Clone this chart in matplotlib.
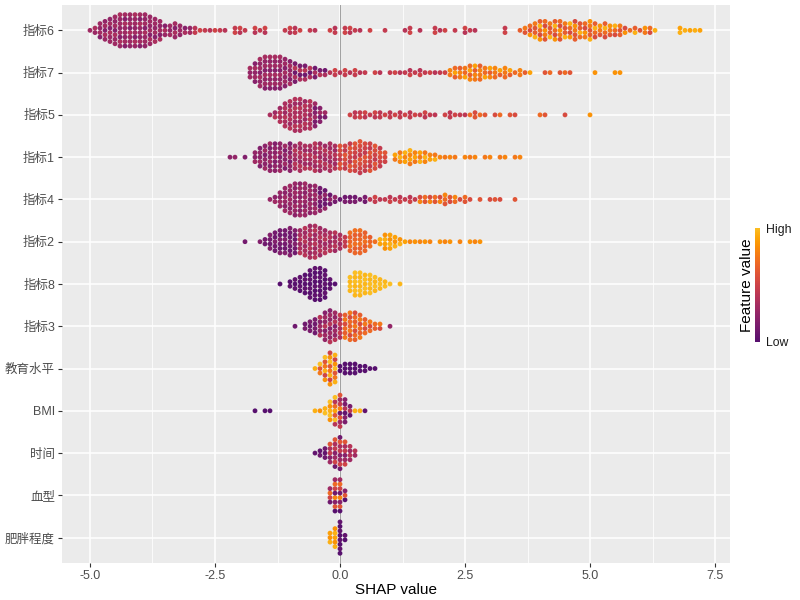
import numpy as np
import matplotlib.pyplot as plt
from matplotlib import colors, cm

plt.rcParams['font.family'] = ['Liberation Sans', 'Noto Sans CJK SC', 'DejaVu Sans']

# features, top to bottom
features = ['指标6', '指标7', '指标5', '指标1', '指标4', '指标2', '指标8', '指标3',
            '教育水平', 'BMI', '时间', '血型', '肥胖程度']

# SHAP value of the first 0.1-wide column of each feature
col_start = [-5.0, -1.8, -1.4, -2.2, -1.4, -1.9, -1.2, -0.9, -0.5, -1.7, -0.5, -0.2, -0.2]

# number of points in each 0.1-wide SHAP column
col_counts = [
    '1 2 4 5 6 7 8 8 8 8  8 8 7 6 5 3 3 4 3 2  2 2 1 1 1 1 1 1 0 2  2 1 0 2 1 2 0 0 0 1 '
    '2 2 1 0 1 1 0 0 1 2  0 2 2 1 1 0 1 0 0 1  0 0 0 1 2 0 1 0 0 2  1 1 0 1 0 2 1 1 0 0 '
    '0 0 0 2 0 0 1 2 3 4  5 5 4 5 5 4 4 5 4 4  5 4 3 4 3 3 3 2 1 2  1 2 2 1 0 0 0 0 2 1  1 1 1',
    '3 5 7 8 8 8 8 7 6 5  4 4 3 3 2 2 1 2 1 2  1 2 1 1 0 1 1 0 1 1  1 1 2 1 2 1 1 1 1 1 '
    '2 3 3 3 4 4 4 3 3 3  2 3 2 1 2 1 1 0 0 1  1 0 1 1 1 0 0 0 0 1  0 0 0 1 1',
    '1 2 4 6 7 8 8 7 7 6  4 2 0 0 0 0 1 2 2 2  1 2 2 1 2 1 2 1 2 1  1 2 1 1 0 1 2 1 1 1 '
    '1 2 1 1 0 1 1 0 1 1  0 0 0 0 1 1 0 0 0 1  0 0 0 0 1',
    '1 1 0 1 0 3 5 6 7 7  7 6 7 6 7 6 6 7 7 6  7 6 6 6 7 7 8 7 7 6  5 3 0 2 3 3 4 3 3 3 '
    '2 2 1 1 1 1 0 1 1 1  0 1 1 0 1 1 0 1 1',
    '1 2 4 6 7 8 8 8 7 7  6 5 3 2 1 2 2 2 1 2  1 2 1 1 2 1 2 1 2 1  2 2 2 2 2 3 2 2 1 2 '
    '1 0 1 0 1 1 1 0 0 1',
    '1 0 0 1 2 4 5 6 6 7  6 6 7 8 8 7 6 5 5 4  3 5 6 6 5 3 1 2 4 4  3 2 1 1 1 1 1 1 0 1 '
    '1 1 0 1 0 1 1 1',
    '1 0 2 3 4 5 7 8 8 7  3 1 0 0 4 6 6 5 5 4  3 2 1 0 1',
    '1 0 2 3 4 5 7 8 7 6  6 7 7 6 4 3 2 2 0 1',
    '1 3 6 8 7 2 3 3 3 2  2 1 1',
    '1 0 1 1 0 0 0 0 0 0  0 0 1 1 2 5 7 8 6 3  1 1 1',
    '1 2 3 5 7 8 6 4 2',
    '4 8 8 3',
    '3 5 8 2',
]

# feature values (0 = low, 1 = high) of the points, by SHAP range: (up to x, cycle of values)
color_parts = [
    [(-3.0, [0.3, 0.28, 0.35, 0.2, 0.32, 0.25]), (3.4, [0.45, 0.4, 0.5]),
     (6.3, [0.6, 0.75, 0.85, 0.55, 0.7, 0.95, 0.65]), (99, [0.9, 0.95])],
    [(-1.0, [0.3, 0.25, 0.33, 0.2]), (-0.2, [0.15, 0.35, 0.1, 0.4]), (2.1, [0.45, 0.5, 0.4]),
     (3.8, [0.75, 0.8, 0.65, 0.9, 0.7]), (4.6, [0.6, 0.7]), (99, [0.85])],
    [(-0.6, [0.35, 0.4, 0.3, 0.38]), (-0.2, [0.15, 0.3, 0.2]), (2.5, [0.45, 0.42, 0.5]),
     (4.6, [0.6, 0.55, 0.7]), (99, [0.85])],
    [(-1.0, [0.22, 0.25, 0.18, 0.3]), (-0.1, [0.35, 0.4, 0.3]), (0.9, [0.5, 0.55, 0.6, 0.45]),
     (1.9, [0.9, 0.8, 0.95, 0.75]), (99, [0.8, 0.75])],
    [(-0.5, [0.27, 0.3, 0.22]), (0.0, [0.12, 0.25, 0.08]), (0.5, [0.1, 0.15]),
     (1.5, [0.42, 0.45, 0.5]), (2.5, [0.6, 0.7, 0.8, 0.55]), (99, [0.55, 0.6])],
    [(-0.9, [0.12, 0.18, 0.1]), (0.0, [0.35, 0.3, 0.4]), (0.1, [0.45]),
     (0.7, [0.68, 0.65, 0.72]), (1.3, [0.9, 0.95, 0.85]), (99, [0.85, 0.8])],
    [(-0.1, [0.0, 0.04]), (99, [1.0, 0.97])],
    [(-0.5, [0.1, 0.15]), (-0.1, [0.3, 0.2, 0.4, 0.25]), (0.0, [0.45, 0.35]),
     (0.8, [0.65, 0.7, 0.55, 0.75]), (99, [0.25])],
    [(-0.1, [0.95, 0.75, 0.6, 1.0, 0.85, 0.5]), (99, [0.0])],
    [(-1.3, [0.0]), (-0.2, [0.95, 0.85, 1.0]), (-0.1, [0.9, 0.7, 0.4, 1.0, 0.6]),
     (0.0, [0.3, 0.6, 0.1, 0.8, 0.45]), (0.2, [0.2, 0.05, 0.4, 0.15]), (0.4, [0.95]), (99, [0.05])],
    [(-0.3, [0.05, 0.1]), (0.1, [0.2, 0.45, 0.35, 0.6, 0.1, 0.5, 0.3]), (99, [0.3, 0.4])],
    [(99, [0.1, 0.5, 0.7, 0.3, 0.0, 0.6, 0.2, 0.8])],
    [(-0.1, [0.95, 0.85, 0.9]), (99, [0.0, 0.05])],
]

cmap = colors.ListedColormap(plt.get_cmap('inferno')(np.linspace(0.25, 0.85, 256)))

fig = plt.figure(figsize=(8, 6), dpi=100)
ax = fig.add_axes([0.0775, 0.0617, 0.835, 0.93])
ax.set_facecolor('#EBEBEB')

pitch = 0.106
n_feat = len(features)
for i, feat in enumerate(features):
    y0 = n_feat - i
    counts = [int(c) for c in col_counts[i].split()]
    xs, ys, cs = [], [], []
    k = 0
    for j, n in enumerate(counts):
        x = round(col_start[i] + 0.1 * j, 2)
        vals = next(v for lim, v in color_parts[i] if x <= lim + 1e-9)
        for m in range(n):
            xs.append(x)
            ys.append(y0 + (m - (n - 1) / 2) * pitch)
            cs.append(vals[k % len(vals)])
            k += 1
    ax.scatter(xs, ys, c=cs, cmap=cmap, vmin=0, vmax=1, s=12, linewidths=0, zorder=3)

ax.axvline(0, color='#A0A0A0', lw=0.7, zorder=2)

ax.set_xlim(-5.56, 7.8)
ax.set_ylim(0.4, n_feat + 0.6)
ax.set_xticks([-5, -2.5, 0, 2.5, 5, 7.5])
ax.set_xticklabels(['-5.0', '-2.5', '0.0', '2.5', '5.0', '7.5'])
ax.set_xticks([-3.75, -1.25, 1.25, 3.75, 6.25], minor=True)
ax.set_yticks(range(n_feat, 0, -1))
ax.set_yticklabels(features)
ax.set_axisbelow(True)
ax.grid(True, which='major', color='white', lw=1.1)
ax.grid(True, which='minor', axis='x', color='white', lw=0.55)
for s in ax.spines.values():
    s.set_visible(False)
ax.tick_params(which='major', length=3, width=0.8, color='#333333',
               labelcolor='#4D4D4D', labelsize=9, pad=2)
ax.tick_params(which='minor', length=0)
ax.set_xlabel('SHAP value', fontsize=11, labelpad=1)

# colour bar
cax = fig.add_axes([0.944, 0.43, 0.006, 0.19])
sm = cm.ScalarMappable(norm=colors.Normalize(0, 1), cmap=cmap)
cb = fig.colorbar(sm, cax=cax)
cb.outline.set_visible(False)
cb.set_ticks([0, 1])
cb.set_ticklabels(['Low', 'High'])
cax.tick_params(length=0, labelsize=8.8, pad=4, labelcolor='#1A1A1A')
fig.text(0.934, 0.525, 'Feature value', rotation=90, va='center', ha='center', fontsize=11)

fig.savefig('out.png', dpi=100)
